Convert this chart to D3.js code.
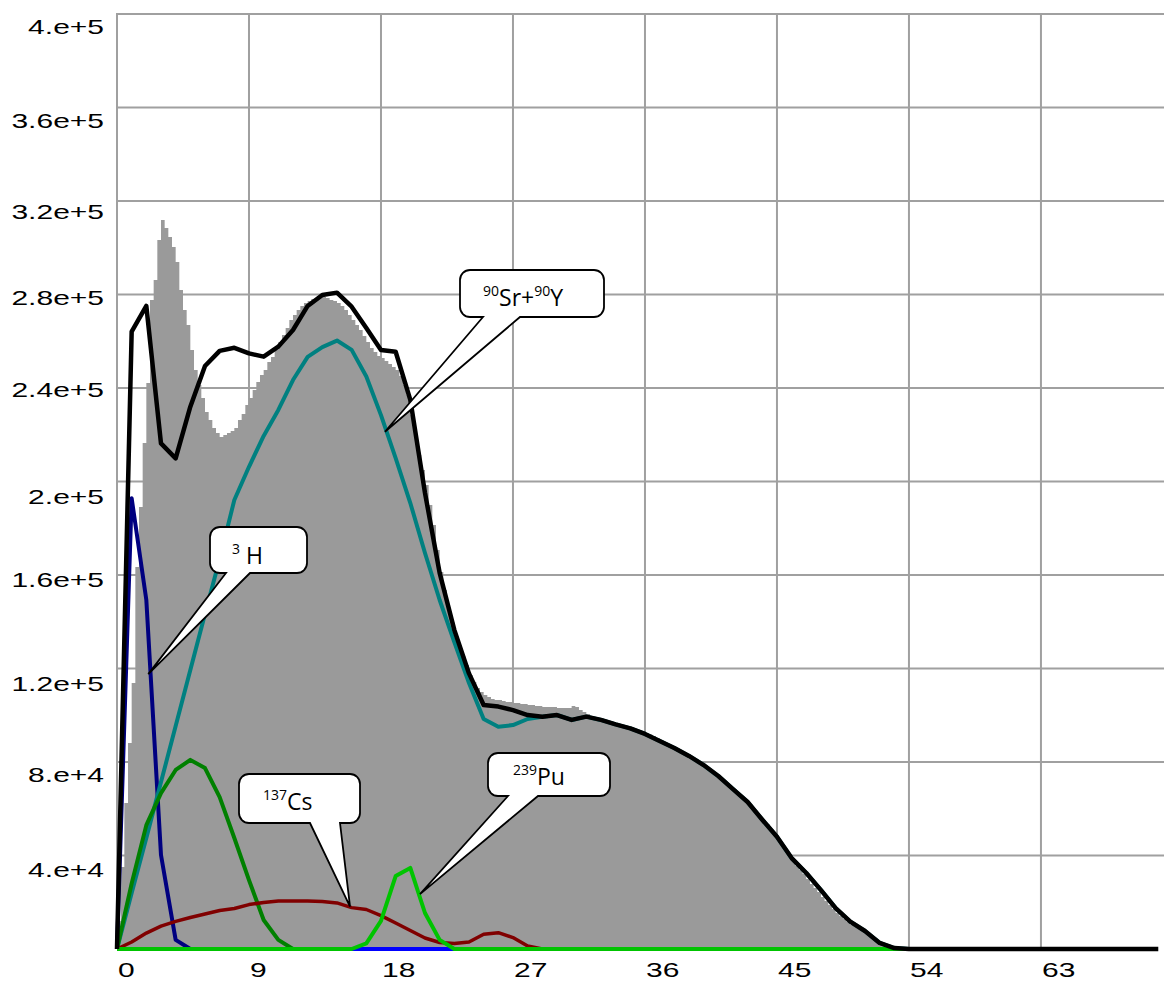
<!DOCTYPE html>
<html>
<head>
<meta charset="utf-8">
<script src="https://cdn.jsdelivr.net/npm/d3@7/dist/d3.min.js"></script>
<style>
  body { margin: 0; background: #fff; }
  svg { display: block; }
</style>
</head>
<body>
<div id="chart"></div>
<script>
// measured spectrum, one count per 0.25 channel bin
const histStep = 0.25;
const histCounts = [
  12000, 35100, 62500, 88100, 113800, 163400, 189100, 216500, 242100, 277600,
  286200, 303300, 311900, 308400, 304600, 300300, 293900, 281900, 273400, 266900,
  256300, 247700, 241300, 235700, 229700, 226300, 222900, 220700, 219000, 219900,
  220700, 221600, 222900, 226300, 228900, 232700, 235700, 239100, 242600, 245600,
  247700, 251100, 253300, 256300, 259700, 262700, 265700, 269100, 271200, 273400,
  275100, 276400, 277200, 278100, 278500, 278900, 278900, 278500, 277600, 277200,
  276400, 275100, 273400, 271200, 269100, 266900, 264800, 262200, 259700, 257100,
  255400, 253700, 252800, 251500, 250300, 249000, 247700, 245100, 241300, 237000,
  228400, 219900, 211300, 204900, 198500, 189900, 181400, 170700, 161300, 153600,
  145900, 139900, 134300, 128800, 125300, 121500, 117200, 114200, 111700, 109900,
  108700, 107800, 107000, 106500, 106500, 106100, 105700, 105700, 105200, 105200,
  104800, 104800, 104400, 104400, 104000, 104000, 103500, 103500, 103500, 103500,
  103100, 103100, 103100, 103100, 104000, 103500, 102200, 101400, 100500, 99700,
  99200, 98800, 98400, 98000, 97500, 97100, 96700, 96300, 95800, 95400,
  95000, 94100, 93300, 92800, 92400, 91800, 91100, 90300, 89400, 88600,
  87700, 86800, 86000, 85100, 84300, 83400, 82600, 81700, 80400, 79600,
  78300, 77000, 76100, 74900, 73600, 72300, 71000, 69700, 68400, 66700,
  65500, 63700, 62000, 60300, 58600, 56900, 55200, 53500, 51300, 49200,
  47100, 44500, 41900, 39800, 37600, 35500, 33800, 32100, 29900, 27800,
  26100, 24400, 22200, 20500, 18800, 17100, 15400, 14100, 12800, 11600,
  10300, 9400, 8600, 7700, 6400, 5100, 3900, 3000, 2100, 1500,
  900, 400, 200
];

// fitted components, one value per channel 0, 1, 2, ...
const fitTotal = [
  0, 264100, 275100, 216300, 209900, 232000, 249400, 255900, 257200, 254800,
  253400, 257700, 264800, 275100, 279800, 280800, 274800, 265700, 256300, 255500,
  234900, 195100, 160900, 136500, 117900, 104400, 103700, 102200, 100100, 99400,
  100100, 98000, 99400, 98000, 96100, 94400, 92000, 89000, 86000, 82600,
  78700, 74000, 68400, 62900, 55300, 48000, 38900, 32500, 25200, 17500,
  11700, 7700, 2600, 400, 0, 0, 0, 0, 0, 0,
  0, 0, 0, 0, 0, 0, 0, 0, 0, 0,
  0, 0
];
const srY90 = [
  0, 24000, 47500, 71400, 95400, 119400, 143300, 166800, 192100, 206300,
  219500, 230600, 243400, 253300, 257500, 260300, 256300, 244900, 228400, 210000,
  190800, 169400, 149300, 131300, 113800, 98400, 95100, 95800, 98400, 99400,
  100100, 98000, 99400, 98000, 96100, 94400, 92000, 89000, 86000, 82600,
  78700, 74000, 68400, 62900, 55300, 48000, 38900, 32500, 25200, 17500,
  11700, 7700, 2600, 400, 0
];
const h3 = [0, 192800, 149300, 40200, 3900, 0, 0, 0, 0, 0, 0, 0, 0];
const greenComp = [0, 28000, 53000, 66700, 76600, 80900, 77400, 65000, 47500, 29500, 12400, 3900, 0, 0];
const cs137 = [
  0, 3000, 6800, 9800, 11800, 13500, 15000, 16500, 17300, 19000,
  19900, 20500, 20500, 20500, 20300, 19700, 17700, 16900, 14300, 11100,
  7900, 4700, 2800, 2400, 3000, 6300, 7000, 4900, 1300, 0
];
const pu239 = [
  0, 0, 0, 0, 0, 0, 0, 0, 0, 0,
  0, 0, 0, 0, 0, 0, 0, 2400, 12000, 31200,
  34700, 15400, 3900, 0, 0, 0, 0, 0, 0, 0,
  0, 0, 0, 0, 0, 0, 0, 0, 0, 0,
  0, 0, 0, 0, 0, 0, 0, 0, 0, 0,
  0, 0, 0, 0, 0
];
const blueComp = [
  0, 0, 0, 0, 0, 0, 0, 0, 0, 0,
  0, 0, 0, 0, 0, 0, 0, 0, 0, 0,
  0, 0, 0, 0, 0, 0, 0, 0, 0, 0
];

const xTicks = [0, 9, 18, 27, 36, 45, 54, 63];
const yTicks = [40000, 80000, 120000, 160000, 200000, 240000, 280000, 320000, 360000, 400000];
const yTickLabels = ['4.e+4', '8.e+4', '1.2e+5', '1.6e+5', '2.e+5', '2.4e+5', '2.8e+5', '3.2e+5', '3.6e+5', '4.e+5'];
// the original's labels do not sit at a fixed distance from their grid lines
const yLabelDrop = [21, 20, 22, 12, 22, 9, 10, 18, 20, 20];

// callouts: box in pixels, tip in data units
const callouts = [
  { sup: '90', main: 'Sr+', sup2: '90', main2: 'Y', box: [460, 270, 604, 317], base: [483, 520], tip: [18.27, 221300], tx: 483, ty: 306 },
  { sup: '3', main: ' H', box: [210, 527, 307, 573], base: [226, 250], tip: [2.13, 117600], tx: 232, ty: 564 },
  { sup: '137', main: 'Cs', box: [239, 774, 360, 823], base: [310, 340], tip: [15.89, 18100], tx: 263, ty: 810 },
  { sup: '239', main: 'Pu', box: [488, 753, 610, 796], base: [508, 538], tip: [20.66, 23500], tx: 513, ty: 785 }
];

const W = 1164, H = 981;
const svg = d3.select('#chart').append('svg')
  .attr('width', W)
  .attr('height', H);

const x = d3.scaleLinear().domain([0, 71.39]).range([117, 1164]);
const y = d3.scaleLinear().domain([0, 400000]).range([949, 14]);

// grid
svg.append('g').selectAll('line.h')
  .data(yTicks)
  .enter().append('line')
  .attr('x1', x(0)).attr('x2', W)
  .attr('y1', d => y(d)).attr('y2', d => y(d))
  .style('stroke', '#a0a0a0').style('stroke-width', 2);
svg.append('g').selectAll('line.v')
  .data(xTicks)
  .enter().append('line')
  .attr('x1', d => x(d)).attr('x2', d => x(d))
  .attr('y1', y(400000) - 1).attr('y2', y(0))
  .style('stroke', '#a0a0a0').style('stroke-width', 2);

// histogram as a step area
const histPts = histCounts.map((v, i) => [i * histStep, v]);
histPts.push([histCounts.length * histStep, 0]);
const area = d3.area()
  .curve(d3.curveStepAfter)
  .x(d => x(d[0]))
  .y0(y(0))
  .y1(d => y(d[1]));
svg.append('path')
  .datum(histPts)
  .attr('d', area)
  .style('fill', '#9a9a9a');

// component lines
const line = d3.line()
  .x((d, i) => x(i))
  .y(d => y(d));
const series = [
  { data: blueComp, color: '#0000ff', w: 4 },
  { data: h3, color: '#000080', w: 4 },
  { data: srY90, color: '#008080', w: 4 },
  { data: greenComp, color: '#008000', w: 4 },
  { data: cs137, color: '#800000', w: 3.5 },
  { data: pu239, color: '#00c400', w: 4 },
  { data: fitTotal, color: '#000000', w: 4.5 }
];
svg.append('g').selectAll('path')
  .data(series)
  .enter().append('path')
  .attr('d', d => line(d.data))
  .style('fill', 'none')
  .style('stroke', d => d.color)
  .style('stroke-width', d => d.w)
  .style('stroke-linejoin', 'round');

// axis labels (horizontally stretched sans, as in the original)
svg.append('g').selectAll('g')
  .data(yTicks)
  .enter().append('g')
  .attr('transform', (d, i) => `translate(104,${y(d) + yLabelDrop[i]}) scale(1.5,1)`)
  .append('text')
  .attr('text-anchor', 'end')
  .style('font-family', 'Liberation Sans, Arial, sans-serif')
  .style('font-size', '20px')
  .text((d, i) => yTickLabels[i]);
svg.append('g').selectAll('g')
  .data(xTicks)
  .enter().append('g')
  .attr('transform', d => `translate(${x(d) + 1},977) scale(1.5,1)`)
  .append('text')
  .style('font-family', 'Liberation Sans, Arial, sans-serif')
  .style('font-size', '20px')
  .text(d => d);

// speech balloons
function balloon(c) {
  const [x0, y0, x1, y1] = c.box, r = 10;
  const tx = x(c.tip[0]), ty = y(c.tip[1]);
  return `M${x0 + r},${y0} H${x1 - r} A${r},${r} 0 0 1 ${x1},${y0 + r} V${y1 - r} A${r},${r} 0 0 1 ${x1 - r},${y1}` +
    ` H${c.base[1]} L${tx},${ty} L${c.base[0]},${y1} H${x0 + r} A${r},${r} 0 0 1 ${x0},${y1 - r} V${y0 + r} A${r},${r} 0 0 1 ${x0 + r},${y0} Z`;
}
const cg = svg.append('g').selectAll('g')
  .data(callouts)
  .enter().append('g');
cg.append('path')
  .attr('d', balloon)
  .style('fill', '#fff')
  .style('stroke', '#000')
  .style('stroke-width', 1.8)
  .style('stroke-linejoin', 'miter');
const txt = cg.append('text')
  .attr('x', d => d.tx)
  .attr('y', d => d.ty)
  .style('font-family', 'Open Sans, Noto Sans, sans-serif')
  .style('fill', '#000');
txt.append('tspan').attr('dy', -10).style('font-size', '14px').text(d => d.sup);
txt.append('tspan').attr('dy', 10).style('font-size', '23px').style('white-space', 'pre').text(d => d.main);
txt.filter(d => d.sup2).append('tspan').attr('dy', -10).style('font-size', '14px').text(d => d.sup2);
txt.filter(d => d.main2).append('tspan').attr('dy', 10).style('font-size', '23px').text(d => d.main2);
</script>
</body>
</html>
